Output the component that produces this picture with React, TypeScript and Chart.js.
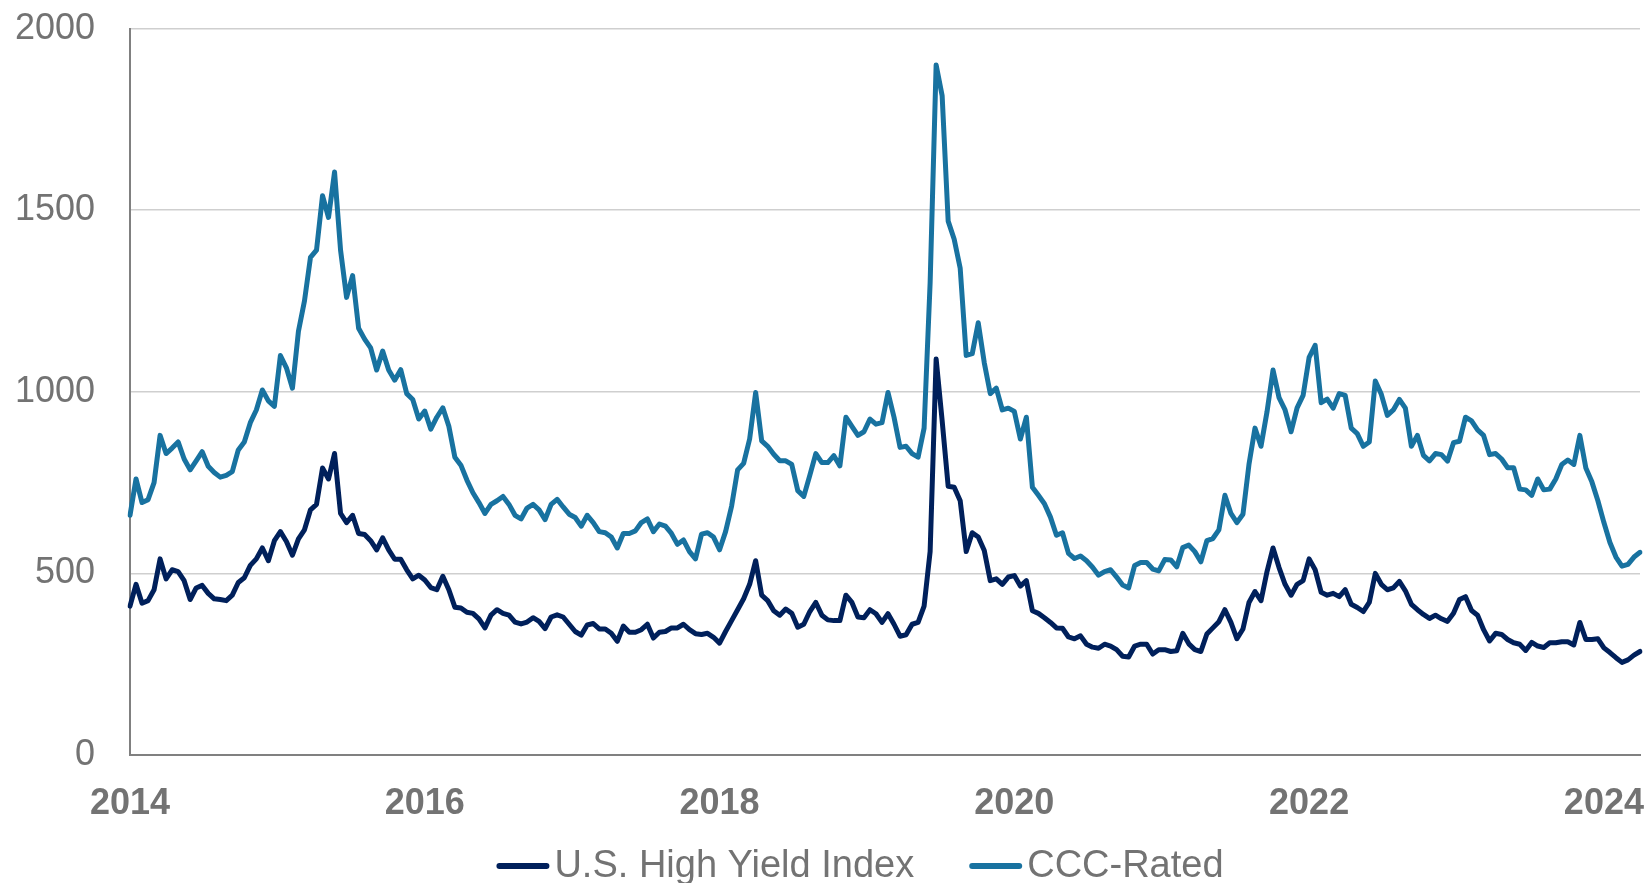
import React, { useEffect, useRef } from 'react';
import { Chart, registerables } from 'chart.js';

Chart.register(...registerables);

// Option-adjusted spreads (bps), evenly spaced observations
const hyIndex = [
  410, 470, 418, 425, 455, 540, 485, 510, 505, 480, 428, 460, 467, 445, 430, 428, 425, 440, 475, 488,
  522, 540, 570, 535, 590, 615, 588, 550, 595, 620, 675, 690, 790, 760, 830, 665, 640, 660, 610, 607,
  590, 565, 598, 565, 539, 539, 510, 485, 495, 482, 461, 455, 492, 455, 407, 405, 393, 390, 375, 350,
  385, 400, 390, 385, 366, 361, 366, 378, 368, 348, 380, 386, 380, 360, 340, 330, 358, 362, 347, 347,
  335, 313, 355, 338, 338, 345, 360, 322, 338, 340, 350, 350, 360, 345, 334, 332, 335, 324, 308, 340,
  370, 400, 430, 470, 535, 440, 425, 397, 385, 402, 390, 352, 360, 395, 420, 385, 372, 370, 370, 440,
  420, 380, 378, 400, 389, 365, 389, 360, 327, 331, 360, 365, 410, 560, 1090, 920, 740, 737, 700, 560,
  612, 600, 563, 480, 485, 470, 490, 494, 465, 480, 397, 390, 378, 365, 350, 349, 325, 320, 328, 305,
  297, 294, 305, 300, 290, 272, 270, 300, 305, 305, 278, 290, 290, 285, 287, 335, 306, 290, 285, 333,
  350, 367, 400, 365, 320, 347, 420, 450, 425, 505, 570, 516, 470, 440, 470, 480, 540, 510, 448, 440,
  445, 436, 455, 415, 406, 395, 420, 500, 470, 455, 460, 478, 452, 415, 400, 387, 376, 385, 375, 368,
  390, 428, 436, 398, 385, 345, 314, 335, 332, 318, 309, 305, 288, 310, 300, 296, 309, 309, 312, 312,
  303, 365, 318, 318, 320, 295, 282, 268, 255, 262, 275, 285,
];

const cccRated = [
  660, 760, 695, 703, 750, 880, 830, 845, 862, 815, 785, 810, 835, 795, 778, 765, 770, 780, 840, 862,
  915, 950, 1005, 975, 960, 1100, 1066, 1010, 1167, 1250, 1370, 1390, 1540, 1480, 1605, 1390, 1260, 1320, 1175, 1145,
  1121, 1060, 1112, 1060, 1032, 1061, 995, 979, 925, 947, 897, 930, 956, 905, 820, 798, 757, 722, 695, 665,
  690, 700, 712, 690, 660, 650, 680, 690, 675, 648, 690, 704, 683, 663, 654, 630, 660, 640, 615, 612,
  600, 570, 610, 610, 617, 640, 650, 615, 636, 630, 610, 580, 592, 560, 540, 608, 612, 600, 565, 615,
  685, 785, 803, 870, 998, 865, 850, 828, 810, 810, 800, 728, 712, 770, 830, 805, 805, 824, 796, 930,
  905, 880, 890, 925, 911, 915, 998, 930, 847, 850, 830, 820, 900, 1300, 1900, 1815, 1470, 1420, 1340, 1100,
  1105, 1190, 1080, 995, 1010, 950, 955, 946, 870, 930, 737, 715, 692, 655, 605, 612, 555, 541, 548, 535,
  517, 495, 505, 510, 490, 468, 460, 522, 530, 530, 512, 507, 538, 537, 518, 571, 578, 560, 532, 590,
  596, 620, 715, 665, 640, 663, 800, 900, 850, 945, 1060, 984, 950, 890, 956, 990, 1095, 1128, 970, 980,
  955, 995, 990, 900, 885, 850, 862, 1030, 993, 935, 950, 979, 955, 850, 880, 825, 810, 830, 827, 809,
  860, 864, 930, 920, 895, 880, 827, 830, 815, 791, 791, 732, 730, 715, 760, 730, 732, 760, 800, 812,
  800, 880, 790, 752, 700, 640, 585, 545, 520, 525, 545, 558,
];

const yearTicks = ['2014', '2016', '2018', '2020', '2022', '2024'];
const POINTS_PER_TICK = 49;
const categories = hyIndex.map((_, i) =>
  i % POINTS_PER_TICK === 0 ? yearTicks[i / POINTS_PER_TICK] ?? '' : ''
);

const seriesNames = ['U.S. High Yield Index', 'CCC-Rated'];
const seriesColors = ['#00205B', '#1872A0'];

const FONT = '"Liberation Sans", Arial, Helvetica, sans-serif';
const GRAY = '#737373';

const bottomLegend = {
  id: 'bottomLegend',
  afterDraw(chart: any) {
    const ctx = chart.ctx as CanvasRenderingContext2D;
    ctx.save();
    ctx.font = `38px ${FONT}`;
    const sample = 53;
    const gap = 5;
    const itemGap = 55;
    const items = chart.data.datasets.map((ds: any) => ({
      text: ds.label as string,
      color: ds.borderColor as string,
      w: ctx.measureText(ds.label).width,
    }));
    const total =
      items.reduce((s: number, it: any) => s + sample + gap + it.w, 0) + itemGap * (items.length - 1);
    let x = chart.width / 2 + 36 - total / 2;
    const yLine = 866;
    const yBase = 877;
    for (const it of items) {
      ctx.strokeStyle = it.color;
      ctx.lineWidth = 6;
      ctx.lineCap = 'round';
      ctx.beginPath();
      ctx.moveTo(x + 3, yLine);
      ctx.lineTo(x + sample - 3, yLine);
      ctx.stroke();
      ctx.fillStyle = GRAY;
      ctx.textBaseline = 'alphabetic';
      ctx.textAlign = 'left';
      ctx.fillText(it.text, x + sample + gap, yBase);
      x += sample + gap + it.w + itemGap;
    }
    ctx.restore();
  },
};

export default function App() {
  const canvasRef = useRef<HTMLCanvasElement | null>(null);

  useEffect(() => {
    document.body.style.margin = '0';
    const canvas = canvasRef.current;
    if (!canvas) return;
    const chart = new Chart(canvas, {
      type: 'line',
      data: {
        labels: categories,
        datasets: [
          {
            label: seriesNames[0],
            data: hyIndex,
            borderColor: seriesColors[0],
            backgroundColor: seriesColors[0],
            borderWidth: 5,
            pointRadius: 0,
            tension: 0,
            borderJoinStyle: 'round',
            borderCapStyle: 'round',
          },
          {
            label: seriesNames[1],
            data: cccRated,
            borderColor: seriesColors[1],
            backgroundColor: seriesColors[1],
            borderWidth: 5,
            pointRadius: 0,
            tension: 0,
            borderJoinStyle: 'round',
            borderCapStyle: 'round',
          },
        ],
      },
      options: {
        responsive: false,
        animation: false,
        layout: { padding: { left: 0, right: 0, top: 28, bottom: 0 } },
        plugins: {
          legend: { display: false },
          tooltip: { enabled: false },
        },
        scales: {
          x: {
            type: 'category',
            afterFit: (scale: any) => {
              scale.height = 128;
            },
            grid: { display: false, drawTicks: false },
            border: { display: true, color: '#808080', width: 2 },
            ticks: {
              autoSkip: false,
              maxRotation: 0,
              minRotation: 0,
              padding: 8,
              color: GRAY,
              font: { family: FONT, size: 36, weight: 'bold', lineHeight: 2.3 },
            },
          },
          y: {
            min: 0,
            max: 2000,
            afterFit: (scale: any) => {
              scale.width = 130;
            },
            grid: {
              color: '#cfcfcf',
              lineWidth: 1.5,
              drawTicks: true,
              tickLength: 28,
              tickColor: 'rgba(0,0,0,0)',
            },
            border: { display: true, color: '#808080', width: 2 },
            ticks: {
              stepSize: 500,
              padding: 7,
              color: GRAY,
              font: { family: FONT, size: 36 },
              callback: (v: any) => String(v),
            },
          },
        },
      },
      plugins: [bottomLegend],
    });
    return () => chart.destroy();
  }, []);

  return (
    <div style={{ width: 1648, height: 883, position: 'relative', overflow: 'hidden' }}>
      <canvas ref={canvasRef} width={1648} height={883} />
    </div>
  );
}
